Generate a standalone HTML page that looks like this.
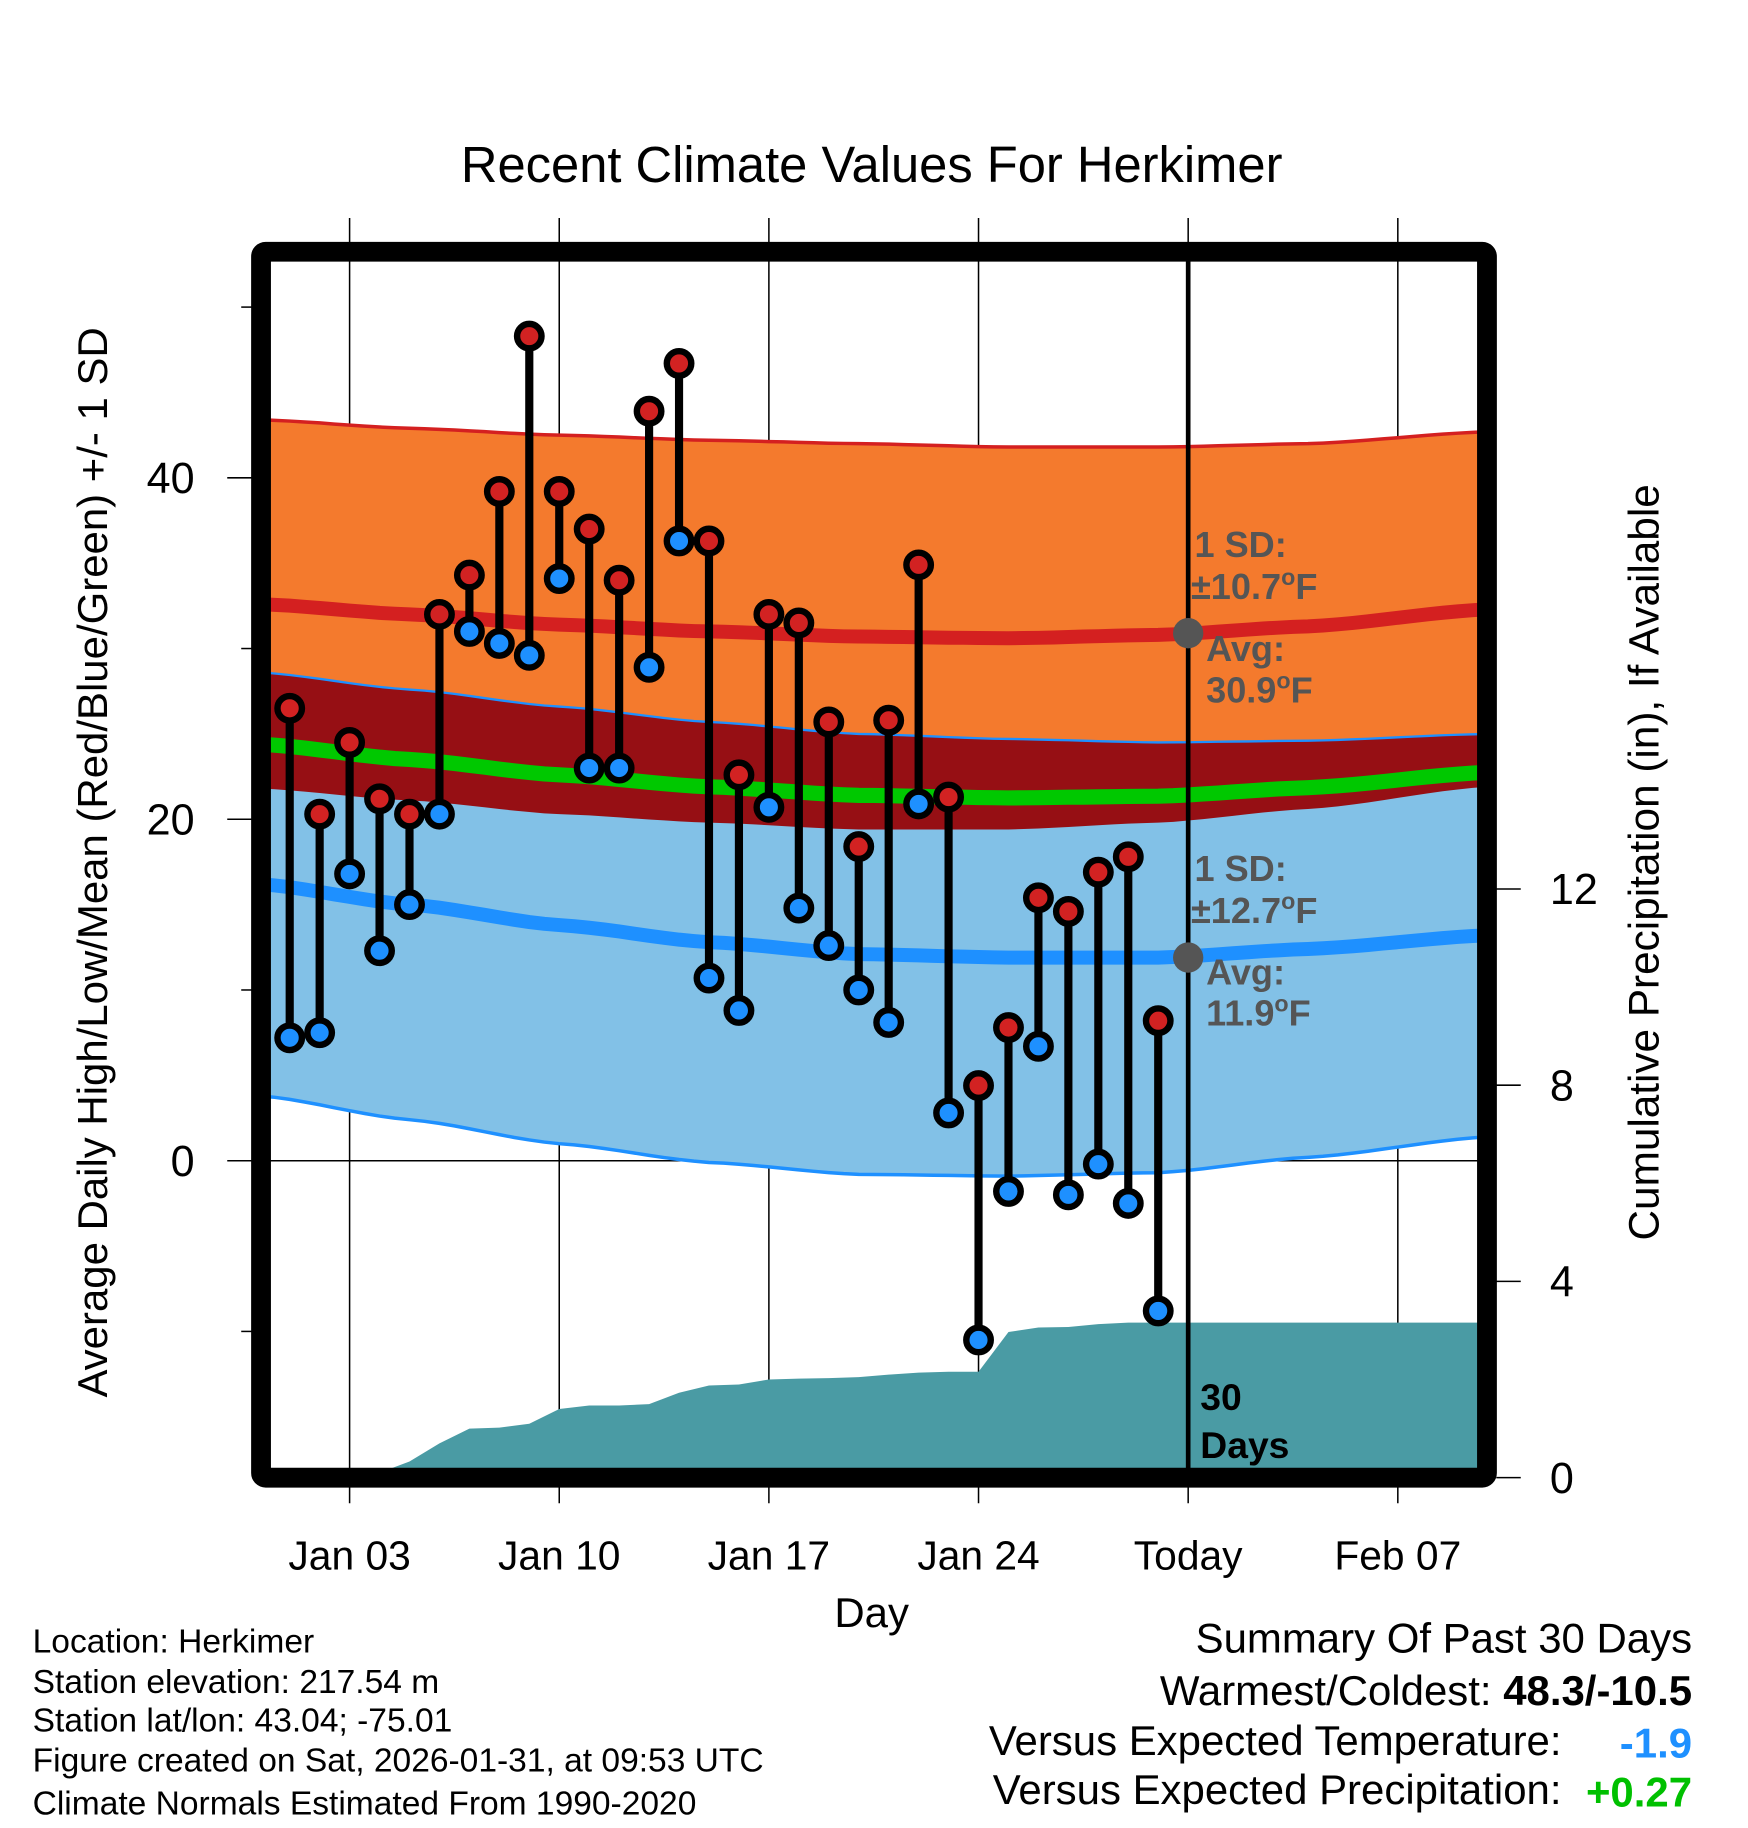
<!DOCTYPE html>
<html><head><meta charset="utf-8"><style>
html,body{margin:0;padding:0;background:#fff}
svg{display:block;font-family:"Liberation Sans",Arial,sans-serif}
</style></head><body>
<svg id="chart" width="1748" height="1828" viewBox="0 0 1500 1568.6" xmlns="http://www.w3.org/2000/svg">
<rect width="1500" height="1568.6" fill="#fff"/>
<text x="748" y="156" font-size="43.5" text-anchor="middle">Recent Climate Values For Herkimer</text>
<defs><clipPath id="plotclip"><rect x="232" y="224" width="1036" height="1036"/></clipPath></defs>
<g id="grid"></g>
<g id="plot" clip-path="url(#plotclip)"></g>
<g id="marks"></g>
<rect x="224" y="216" width="1052" height="1052" fill="none" stroke="#000" stroke-width="17" rx="4"/>
<g id="axes"></g>
<text transform="translate(92,740) rotate(-90)" font-size="36" text-anchor="middle">Average Daily High/Low/Mean (Red/Blue/Green) +/- 1 SD</text>
<text transform="translate(1423,740) rotate(-90)" font-size="36.3" text-anchor="middle">Cumulative Precipitation (in), If Available</text>
<text x="748" y="1396" font-size="36" text-anchor="middle">Day</text>
<g font-size="28.8">
<text x="28" y="1418">Location: Herkimer</text>
<text x="28" y="1453">Station elevation: 217.54 m</text>
<text x="28" y="1486">Station lat/lon: 43.04; -75.01</text>
<text x="28" y="1520">Figure created on Sat, 2026-01-31, at 09:53 UTC</text>
<text x="28" y="1557">Climate Normals Estimated From 1990-2020</text>
</g>
<g font-size="36">
<text x="1452" y="1418" text-anchor="end">Summary Of Past 30 Days</text>
<text x="1452" y="1463" text-anchor="end">Warmest/Coldest: <tspan font-weight="bold">48.3/-10.5</tspan></text>
<text x="1340" y="1506" text-anchor="end">Versus Expected Temperature:</text>
<text x="1452" y="1508" text-anchor="end" font-weight="bold" fill="#1E90FF">-1.9</text>
<text x="1340" y="1548" text-anchor="end">Versus Expected Precipitation:</text>
<text x="1452" y="1550" text-anchor="end" font-weight="bold" fill="#00C000">+0.27</text>
</g>
</svg>
<script>
const highs=[26.5,20.3,24.5,21.2,20.3,32,34.3,39.2,48.3,39.2,37,34,43.9,46.7,36.3,22.6,32,31.5,25.7,18.4,25.8,34.9,21.3,4.4,7.8,15.4,14.6,16.9,17.8,8.2];
const lows=[7.2,7.5,16.8,12.3,15,20.3,31,30.3,29.6,34.1,23,23,28.9,36.3,10.7,8.8,20.7,14.8,12.6,10,8.1,20.9,2.8,-10.5,-1.8,6.7,-2,-0.2,-2.5,-8.8];
const precip=[0,0,0,0.1,0.33,0.7,1.0,1.02,1.1,1.4,1.47,1.47,1.5,1.73,1.88,1.9,2.0,2.02,2.03,2.05,2.1,2.14,2.16,2.16,2.97,3.06,3.07,3.13,3.16,3.16];
const normDays=[0,5,10,15,20,25,30,35,41];
const normHigh=[32.6,32.0,31.4,31.0,30.7,30.6,30.8,31.3,32.3];
const sdHighArr=[10.8,10.9,11.1,11.2,11.3,11.2,11.0,10.7,10.4];
const normLow=[16.2,15.0,13.8,12.8,12.1,11.9,11.9,12.4,13.2];
const sdLowArr=[12.4,12.6,12.8,12.9,12.9,12.8,12.6,12.2,11.8];
const xTickDays=[3,10,17,24,31,38];
const xTickLabels=["Jan 03","Jan 10","Jan 17","Jan 24","Today","Feb 07"];
const yTicks=[0,20,40];
const yMinor=[-10,10,30,50];
const y2Ticks=[0,4,8,12];

const NS="http://www.w3.org/2000/svg";
const X=d=>248.6+(d-1)*25.7;
const Y=v=>996-v*14.65;
const Y2=p=>1268-p*42.1;
function mk(tag,at,parent){const e=document.createElementNS(NS,tag);for(const k in at)e.setAttribute(k,at[k]);parent.appendChild(e);return e;}
const grid=document.getElementById('grid'),plot=document.getElementById('plot'),marks=document.getElementById('marks'),axes=document.getElementById('axes');
function interp(arr,d){for(let i=0;i<normDays.length-1;i++){if(d<=normDays[i+1]){const t=(d-normDays[i])/(normDays[i+1]-normDays[i]);const s=t*t*(3-2*t);return arr[i]+(arr[i+1]-arr[i])*(0.5*t+0.5*s);}}return arr[arr.length-1];}
const dd=[];for(let d=0;d<=41;d+=0.5)dd.push(d);
const pts=f=>dd.map(d=>X(d).toFixed(1)+','+Y(f(d)).toFixed(1));
const hi=d=>interp(normHigh,d),lo=d=>interp(normLow,d);
const sh=d=>interp(sdHighArr,d),sl=d=>interp(sdLowArr,d);
function band(fTop,fBot,fill,name){const p=pts(fTop).concat(pts(fBot).reverse());const e=mk('polygon',{points:p.join(' '),fill:fill},plot);

}
function line(f,stroke,w,name){const e=mk('polyline',{points:pts(f).join(' '),fill:'none',stroke:stroke,'stroke-width':w},plot);

}
band(d=>hi(d)+sh(d),d=>hi(d)-sh(d),'#F47A2D','high-sd-band');
band(d=>lo(d)+sl(d),d=>lo(d)-sl(d),'#82C1E7','low-sd-band');
band(d=>lo(d)+sl(d),d=>hi(d)-sh(d),'#960F14','overlap-band');
line(d=>hi(d)+sh(d),'#D42020',3,'high-upper-line');
line(d=>lo(d)+sl(d),'#1E90FF',2,'low-upper-line');
line(d=>lo(d)-sl(d),'#1E90FF',3,'low-lower-line');
line(d=>(hi(d)+lo(d))/2,'#00C800',13,'mean-normal-line');
line(hi,'#D42020',12,'high-normal-line');
line(lo,'#1E90FF',12,'low-normal-line');
let pp=[X(0.3)+','+Y2(0)];precip.forEach((p,i)=>pp.push(X(i+1)+','+Y2(p)));
pp.push(X(42)+','+Y2(precip[precip.length-1]));pp.push(X(42)+','+Y2(0));
const pa=mk('polygon',{points:pp.join(' '),fill:'#4A9BA4'},plot);


xTickDays.forEach((d,i)=>{const g=mk('line',{x1:X(d),x2:X(d),y1:187,y2:1290,stroke:'#000','stroke-width':1.3},grid);


const t=mk('text',{x:X(d),y:1347,'font-size':35,'text-anchor':'middle'},axes);t.textContent=xTickLabels[i];

});
yTicks.forEach(v=>{const g=mk('line',{x1:195,x2:1268,y1:Y(v),y2:Y(v),stroke:'#000','stroke-width':1.3},grid);


const t=mk('text',{x:167,y:Y(v)+13,'font-size':37,'text-anchor':'end'},axes);t.textContent=v;

});
yMinor.forEach(v=>{const g=mk('line',{x1:207,x2:216,y1:Y(v),y2:Y(v),stroke:'#000','stroke-width':1.3},axes);

});
y2Ticks.forEach(p=>{const g=mk('line',{x1:1284,x2:1305,y1:Y2(p),y2:Y2(p),stroke:'#000','stroke-width':1.3},axes);


const t=mk('text',{x:1330,y:Y2(p)+13,'font-size':37},axes);t.textContent=p;

});
const tl=mk('line',{x1:X(31),x2:X(31),y1:224,y2:1260,stroke:'#000','stroke-width':4},marks);


highs.forEach((h,i)=>{const x=X(i+1),l=lows[i];
const s=mk('line',{x1:x,x2:x,y1:Y(h),y2:Y(l),stroke:'#000','stroke-width':7},marks);


[[h,'#D22222','high-marker'],[l,'#1E90FF','low-marker']].forEach(([v,c,n])=>{
const m=mk('circle',{cx:x,cy:Y(v),r:10.5,fill:c,stroke:'#000','stroke-width':5.5},marks);

});});
function txt(x,y,parts,size,fill,name){const t=mk('text',{x:x,y:y,'font-size':size,'font-weight':'bold',fill:fill},marks);
parts.forEach(p=>{const s=mk('tspan',p.at||{},t);s.textContent=p.s;});

return t;}
const g1=mk('circle',{cx:X(31),cy:Y(30.9),r:13,fill:'#555'},marks);


const g2=mk('circle',{cx:X(31),cy:Y(11.9),r:13,fill:'#555'},marks);


const deg=v=>[{s:v},{s:'o',at:{dy:-12,'font-size':20}},{s:'F',at:{dy:12}}];
txt(1025,478,[{s:'1 SD:'}],31,'#555','high-sd-label');
txt(1022,514,deg('±10.7'),31,'#555','high-sd-value');
txt(1035,567,[{s:'Avg:'}],31,'#555','high-avg-label');
txt(1035,603,deg('30.9'),31,'#555','high-avg-value');
txt(1025,756,[{s:'1 SD:'}],31,'#555','low-sd-label');
txt(1022,792,deg('±12.7'),31,'#555','low-sd-value');
txt(1035,845,[{s:'Avg:'}],31,'#555','low-avg-label');
txt(1035,880,deg('11.9'),31,'#555','low-avg-value');
txt(1030,1210,[{s:'30'}],32,'#000','days-count');
txt(1030,1251,[{s:'Days'}],32,'#000','days-label');
</script>
</body></html>
